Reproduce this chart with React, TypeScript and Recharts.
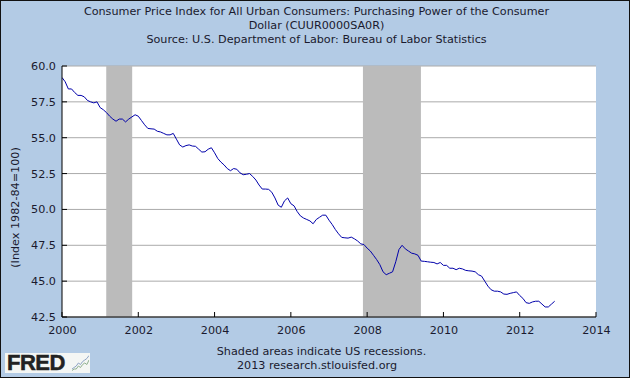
import React from "react";
import { ComposedChart, Line, LineChart, XAxis, YAxis, CartesianGrid, ReferenceArea } from "recharts";

const START_YEAR = 2000;

// monthly index values
const values2000 = [59.2, 58.9, 58.4, 58.4, 58.15, 57.95, 57.95, 57.85, 57.6, 57.5, 57.43, 57.5];
const values2001 = [57.1, 56.95, 56.75, 56.5, 56.3, 56.15, 56.3, 56.3, 56.1, 56.3, 56.45, 56.6];
const values2002 = [56.5, 56.2, 55.9, 55.65, 55.62, 55.6, 55.45, 55.4, 55.3, 55.2, 55.2, 55.3];
const values2003 = [54.9, 54.5, 54.35, 54.45, 54.5, 54.42, 54.4, 54.2, 54.0, 54.02, 54.2, 54.3];
const values2004 = [53.95, 53.55, 53.3, 53.1, 52.85, 52.7, 52.85, 52.8, 52.55, 52.42, 52.45, 52.5];
const values2005 = [52.3, 52.05, 51.7, 51.42, 51.42, 51.4, 51.2, 50.8, 50.3, 50.15, 50.6, 50.8];
const values2006 = [50.4, 50.25, 49.85, 49.55, 49.4, 49.3, 49.2, 49.0, 49.3, 49.45, 49.6, 49.6];
const values2007 = [49.25, 48.95, 48.6, 48.3, 48.05, 48.02, 48.0, 48.07, 47.95, 47.8, 47.6, 47.55];
const values2008 = [47.3, 47.1, 46.8, 46.5, 46.15, 45.65, 45.45, 45.55, 45.65, 46.35, 47.2, 47.5];
const values2009 = [47.25, 47.1, 46.95, 46.9, 46.8, 46.4, 46.38, 46.35, 46.32, 46.3, 46.2, 46.3];
const values2010 = [46.1, 46.1, 45.9, 45.9, 45.8, 45.9, 45.85, 45.75, 45.72, 45.7, 45.65, 45.45];
const values2011 = [45.35, 45.0, 44.65, 44.4, 44.3, 44.3, 44.25, 44.1, 44.08, 44.15, 44.2, 44.25];
const values2012 = [44.0, 43.8, 43.5, 43.45, 43.55, 43.6, 43.6, 43.4, 43.2, 43.2, 43.4, 43.6];

const yearlyValues = [
  values2000, values2001, values2002, values2003, values2004, values2005, values2006,
  values2007, values2008, values2009, values2010, values2011, values2012,
];

const xTicks = [2000, 2002, 2004, 2006, 2008, 2010, 2012, 2014];
const yTicks = [42.5, 45, 47.5, 50, 52.5, 55, 57.5, 60];

// recession start / end as fractional years
const recessions = [
  [2001.16, 2001.84],
  [2007.89, 2009.41],
];

const titleLines = [
  "Consumer Price Index for All Urban Consumers: Purchasing Power of the Consumer",
  "Dollar (CUUR0000SA0R)",
  "Source: U.S. Department of Labor: Bureau of Labor Statistics",
];
const footerLines = ["Shaded areas indicate US recessions.", "2013 research.stlouisfed.org"];

const logoGreen = [1, 2, 2, 4, 3, 5, 6, 5, 8];
const logoBlue = [2, 3, 4, 6, 5, 7, 8, 9, 11];

const FONT = "'DejaVu Sans', Verdana, sans-serif";
const FONT_SIZE = 11.2;
const TEXT = "#1a1a2e";

const data = yearlyValues.flatMap((months, y) =>
  months.map((value, m) => ({ date: START_YEAR + y + m / 12, value }))
);
const logoData = logoGreen.map((green, i) => ({ i, green, blue: logoBlue[i] }));

const XTick = (props: any) => {
  const { x, y, payload } = props;
  return (
    <g>
      <line x1={x} x2={x} y1={y} y2={y - 5} stroke="#000" />
      <text x={x + 0.5} y={y + 17} textAnchor="middle" fontSize={FONT_SIZE} fontFamily={FONT} fill={TEXT}>
        {payload.value}
      </text>
    </g>
  );
};

const YTick = (props: any) => {
  const { x, y, payload } = props;
  return (
    <g>
      <line x1={x} x2={x + 5} y1={y} y2={y} stroke="#000" />
      <text x={x - 6} y={y + 4} textAnchor="end" fontSize={FONT_SIZE} fontFamily={FONT} fill={TEXT}>
        {payload.value.toFixed(1)}
      </text>
    </g>
  );
};

function centered(lines: string[], shifts: number[]) {
  return lines.map((line, i) => (
    <div
      key={line}
      style={{
        position: "absolute",
        left: shifts[i],
        width: 630,
        top: i * 14,
        textAlign: "center",
        fontFamily: FONT,
        fontSize: FONT_SIZE,
        lineHeight: "14px",
        color: TEXT,
        whiteSpace: "nowrap",
      }}
    >
      {line}
    </div>
  ));
}

export default function App() {
  return (
    <div
      style={{
        position: "absolute",
        left: 0,
        top: 0,
        width: 630,
        height: 378,
        boxSizing: "border-box",
        background: "#B3CBE5",
        border: "1px solid #111",
        overflow: "hidden",
      }}
    >
      <div style={{ position: "absolute", left: -1, top: -1 }}>
        <ComposedChart
          width={630}
          height={378}
          data={data}
          margin={{ top: 66, right: 34, bottom: 40, left: 12 }}
        >
          <CartesianGrid vertical={false} stroke="#aaaaaa" fill="#ffffff" syncWithTicks />
          {recessions.map(([from, to]) => (
            <ReferenceArea key={from} x1={from} x2={to} fill="#bbbbbb" fillOpacity={1} stroke="none" />
          ))}
          <XAxis
            dataKey="date"
            type="number"
            domain={[2000, 2014]}
            ticks={xTicks}
            tick={<XTick />}
            tickLine={false}
            tickSize={0}
            tickMargin={0}
            axisLine={{ stroke: "#000" }}
            height={21}
            interval={0}
            allowDataOverflow
          />
          <YAxis
            type="number"
            domain={[42.5, 60]}
            ticks={yTicks}
            tick={<YTick />}
            tickLine={false}
            tickSize={0}
            tickMargin={0}
            axisLine={{ stroke: "#000" }}
            width={50}
            interval={0}
            label={{
              value: "(Index 1982-84=100)",
              angle: -90,
              position: "insideLeft",
              offset: 3,
              dy: 16,
              style: { fontFamily: FONT, fontSize: FONT_SIZE, fill: TEXT, textAnchor: "middle" },
            }}
          />
          <Line
            dataKey="value"
            stroke="#0000aa"
            strokeWidth={1}
            dot={false}
            activeDot={false}
            isAnimationActive={false}
          />
        </ComposedChart>
      </div>
      <div style={{ position: "absolute", left: -1, top: 4 }}>{centered(titleLines, [1.5, 1.5, 1.5])}</div>
      <div style={{ position: "absolute", left: -1, top: 344 }}>{centered(footerLines, [6.5, 2])}</div>
      <div
        style={{
          position: "absolute",
          left: 4,
          top: 352,
          width: 85,
          height: 20,
          background: "#f4f6f4",
        }}
      >
        <div
          style={{
            position: "absolute",
            left: 2,
            top: 0,
            fontFamily: "'Liberation Sans', Arial, sans-serif",
            fontWeight: 700,
            fontSize: 22,
            lineHeight: "20px",
            letterSpacing: -0.5,
            color: "#222",
            WebkitTextStroke: "0.5px #222",
          }}
        >
          FRED
        </div>
        <div style={{ position: "absolute", left: 67, top: 1 }}>
          <LineChart width={17} height={18} data={logoData} margin={{ top: 0, right: 0, bottom: 0, left: 0 }}>
            <XAxis dataKey="i" hide />
            <YAxis hide domain={[0, 12]} />
            <Line dataKey="green" stroke="#8fb08f" strokeWidth={1} dot={false} isAnimationActive={false} />
            <Line dataKey="blue" stroke="#8ea3c4" strokeWidth={1} dot={false} isAnimationActive={false} />
          </LineChart>
        </div>
      </div>
    </div>
  );
}
